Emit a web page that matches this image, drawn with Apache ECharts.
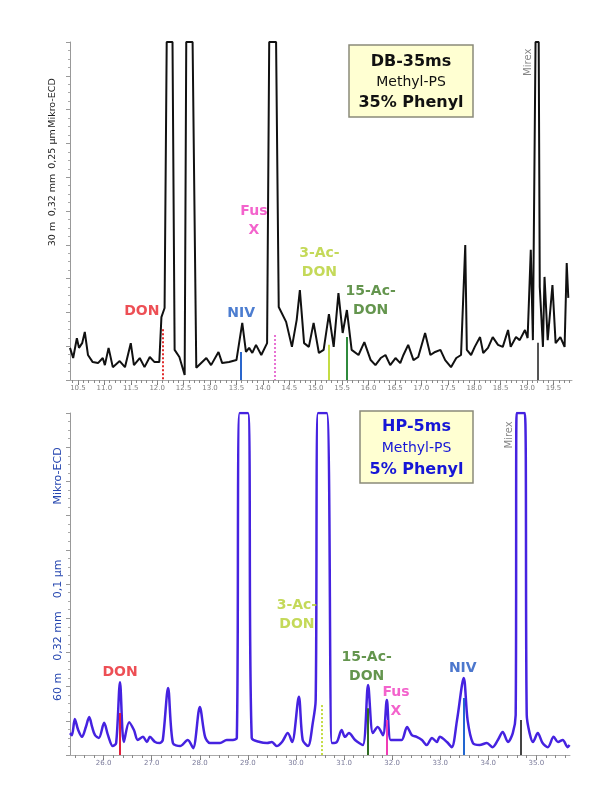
<!DOCTYPE html>
<html>
<head>
<meta charset="utf-8">
<title>DB-35ms / HP-5ms</title>
<script src="https://cdn.jsdelivr.net/npm/echarts@6/dist/echarts.min.js"></script>
<style>
  html, body { margin: 0; padding: 0; background: #fff; }
  #main { width: 600px; height: 800px; }
</style>
</head>
<body>
<div id="main"></div>
<script>
// retention time (min) and detector signal (% of the plotted range)

// DB-35ms column (top)
var topTicks = [10.5, 11.0, 11.5, 12.0, 12.5, 13.0, 13.5, 14.0, 14.5, 15.0, 15.5, 16.0, 16.5, 17.0, 17.5, 18.0, 18.5, 19.0, 19.5];
var topTime = [10.35, 10.41, 10.48, 10.52, 10.58, 10.63, 10.69, 10.78, 10.88, 10.97, 11.01, 11.08, 11.16, 11.29, 11.39, 11.50, 11.56, 11.67, 11.76, 11.86, 11.95, 12.04, 12.08, 12.14, 12.18, 12.29, 12.33, 12.42, 12.52, 12.55, 12.67, 12.74, 12.93, 13.02, 13.16, 13.23, 13.36, 13.50, 13.61, 13.68, 13.74, 13.80, 13.87, 13.97, 14.08, 14.12, 14.25, 14.30, 14.44, 14.55, 14.64, 14.70, 14.78, 14.87, 14.96, 15.06, 15.15, 15.25, 15.34, 15.43, 15.51, 15.59, 15.68, 15.81, 15.92, 16.04, 16.13, 16.23, 16.32, 16.41, 16.51, 16.60, 16.66, 16.75, 16.85, 16.94, 17.07, 17.17, 17.26, 17.36, 17.45, 17.56, 17.66, 17.75, 17.83, 17.86, 17.94, 18.01, 18.11, 18.17, 18.26, 18.35, 18.45, 18.54, 18.64, 18.69, 18.79, 18.86, 18.96, 19.01, 19.07, 19.11, 19.16, 19.22, 19.24, 19.30, 19.33, 19.39, 19.48, 19.54, 19.63, 19.71, 19.75, 19.78];
var topSignal = [9.5, 6.5, 12.4, 9.5, 10.9, 14.2, 7.4, 5.3, 5.0, 6.5, 4.4, 9.5, 3.8, 5.6, 3.8, 10.9, 4.4, 6.5, 3.8, 6.8, 5.3, 5.3, 18.6, 21.3, 100, 100, 8.9, 6.8, 1.5, 100, 100, 3.6, 6.5, 4.4, 8.3, 5.0, 5.3, 5.9, 16.9, 8.3, 9.5, 8.0, 10.4, 7.4, 10.9, 100, 100, 21.6, 17.2, 9.8, 17.8, 26.6, 10.9, 9.8, 16.9, 8.0, 8.9, 19.5, 9.8, 25.7, 13.9, 20.7, 8.9, 7.4, 11.2, 5.9, 4.4, 6.5, 7.4, 4.4, 6.5, 5.0, 7.4, 10.4, 5.9, 6.8, 13.9, 7.4, 8.3, 8.9, 5.9, 3.8, 6.5, 7.4, 39.9, 8.9, 7.4, 9.8, 12.7, 8.0, 9.5, 12.7, 10.4, 9.8, 14.8, 9.8, 12.7, 11.8, 14.8, 12.4, 38.5, 11.8, 100, 100, 27.5, 9.8, 30.5, 11.8, 28.1, 10.9, 12.7, 9.8, 34.6, 24.3];
var topPeakNames = ['DON', 'NIV', 'Fus X', '3-Ac-DON', '15-Ac-DON', 'Mirex'];
var topPeakTime = [12.10, 13.59, 14.23, 15.25, 15.59, 19.20];
var topPeakMark = [15.0, 8.3, 13.3, 10.4, 12.7, 11.0];

// HP-5ms column (bottom)
var bottomTicks = [26.0, 27.0, 28.0, 29.0, 30.0, 31.0, 32.0, 33.0, 34.0, 35.0];
var bottomTime = [25.30, 25.34, 25.40, 25.47, 25.55, 25.63, 25.70, 25.76, 25.82, 25.90, 26.01, 26.09, 26.19, 26.26, 26.34, 26.42, 26.53, 26.63, 26.71, 26.82, 26.90, 26.96, 27.07, 27.17, 27.23, 27.34, 27.44, 27.59, 27.75, 27.86, 28.00, 28.11, 28.21, 28.42, 28.56, 28.69, 28.77, 28.83, 29.00, 29.08, 29.25, 29.40, 29.50, 29.60, 29.71, 29.83, 29.92, 30.06, 30.14, 30.25, 30.35, 30.41, 30.46, 30.64, 30.75, 30.85, 30.95, 31.02, 31.10, 31.23, 31.39, 31.50, 31.60, 31.70, 31.81, 31.89, 31.97, 32.10, 32.20, 32.31, 32.41, 32.51, 32.62, 32.72, 32.83, 32.93, 32.99, 33.14, 33.24, 33.35, 33.49, 33.57, 33.68, 33.82, 33.97, 34.09, 34.20, 34.30, 34.41, 34.51, 34.57, 34.59, 34.76, 34.80, 34.86, 34.93, 35.03, 35.13, 35.24, 35.36, 35.45, 35.55, 35.65, 35.69];
var bottomSignal = [6.4, 5.8, 10.5, 7.3, 5.3, 8.2, 11.1, 8.2, 5.8, 5.0, 9.4, 5.8, 2.6, 3.5, 21.3, 3.8, 9.6, 7.3, 4.4, 5.3, 3.8, 5.3, 3.8, 3.5, 4.4, 19.6, 3.5, 2.6, 4.4, 2.0, 14.0, 5.3, 3.5, 3.5, 4.4, 4.4, 5.0, 100, 100, 5.0, 3.8, 3.5, 3.8, 2.6, 3.8, 6.4, 3.8, 17.0, 4.4, 2.6, 9.4, 16.1, 100, 100, 3.5, 3.8, 7.3, 5.3, 6.4, 4.4, 2.9, 20.5, 6.4, 8.2, 5.8, 16.1, 4.4, 4.4, 4.4, 8.2, 5.8, 5.3, 4.4, 2.9, 5.0, 3.8, 5.3, 3.8, 2.3, 10.2, 22.5, 10.2, 3.5, 2.9, 3.5, 2.3, 4.4, 6.7, 3.8, 6.4, 11.7, 100, 100, 11.7, 6.4, 3.8, 6.4, 3.5, 2.3, 5.3, 3.8, 4.4, 2.3, 2.9];
var bottomPeakNames = ['DON', '3-Ac-DON', '15-Ac-DON', 'Fus X', 'NIV', 'Mirex'];
var bottomPeakTime = [26.34, 30.54, 31.50, 31.89, 33.49, 34.68];
var bottomPeakMark = [12.3, 14.6, 13.7, 10.2, 16.7, 10.2];

// ---- styles / layout ----
var FONT = '"DejaVu Sans", Verdana, sans-serif';
var labelText = { 'DON': 'DON', 'NIV': 'NIV', 'Fus X': 'Fus\nX', '3-Ac-DON': '3-Ac-\nDON', '15-Ac-DON': '15-Ac-\nDON', 'Mirex': 'Mirex' };

var topStyle = {
  'DON':       { color: '#e8232b', line: '#e02a2a', type: 'dotted' },
  'NIV':       { color: '#1f5cc4', line: '#2a66cc', type: 'solid' },
  'Fus X':     { color: '#f03cbf', line: '#e872d4', type: 'dotted' },
  '3-Ac-DON':  { color: '#b5d030', line: '#c4dc44', type: 'solid' },
  '15-Ac-DON': { color: '#3d7a22', line: '#2f8a3c', type: 'solid' },
  'Mirex':     { color: '#666666', line: '#555555', type: 'solid' }
};
var bottomStyle = {
  'DON':       { color: '#e8232b', line: '#e0203c', type: 'solid' },
  'NIV':       { color: '#1f55c0', line: '#2266d0', type: 'solid' },
  'Fus X':     { color: '#f03cbf', line: '#f03cb4', type: 'solid' },
  '3-Ac-DON':  { color: '#b5d030', line: '#c4dc44', type: 'dotted' },
  '15-Ac-DON': { color: '#3d7a22', line: '#2e6b22', type: 'solid' },
  'Mirex':     { color: '#666666', line: '#444444', type: 'solid' }
};
// label anchors (min, signal)
var topLabelAt = {
  'DON': [11.71, 20.4], 'NIV': [13.59, 19.8], 'Fus X': [13.83, 47.2],
  '3-Ac-DON': [15.07, 34.6], '15-Ac-DON': [16.04, 23.4], 'Mirex': [19.03, 94.0]
};
var bottomLabelAt = {
  'DON': [26.34, 24.3], 'NIV': [33.47, 25.4], 'Fus X': [32.08, 15.5],
  '3-Ac-DON': [30.02, 40.9], '15-Ac-DON': [31.47, 25.7], 'Mirex': [34.45, 93.6]
};

function steps(a, b, d) {
  var out = [];
  for (var v = a; v <= b + 1e-9; v += d) out.push(+v.toFixed(2));
  return out;
}

function pairs(xs, ys) {
  return xs.map(function (x, i) { return [x, ys[i]]; });
}

function markLines(names, times, tops, style) {
  return names.map(function (n, i) {
    var s = style[n];
    return [
      { coord: [times[i], tops[i]], lineStyle: { color: s.line, type: s.type, width: 2 } },
      { coord: [times[i], 0] }
    ];
  });
}

function labelData(names, at, style) {
  return names.map(function (n) {
    var mirex = n === 'Mirex';
    return {
      value: at[n],
      label: {
        show: true,
        position: 'inside',
        formatter: labelText[n],
        color: style[n].color,
        fontFamily: FONT,
        fontSize: mirex ? 10 : 14,
        fontWeight: mirex ? 'normal' : 'bold',
        lineHeight: 19,
        align: 'center',
        rotate: mirex ? 90 : 0
      }
    };
  });
}

function xAxes(gi, min, max, ticks, minors, labelColor) {
  return [{
    type: 'value', gridIndex: gi, min: min, max: max, position: 'bottom',
    axisLine: { show: true, lineStyle: { color: '#aaaaaa', width: 1 } },
    axisTick: { show: true, customValues: ticks, length: 5, lineStyle: { color: '#777' } },
    axisLabel: {
      show: true, customValues: ticks, fontSize: 7, color: labelColor, margin: 5, fontFamily: FONT,
      formatter: function (v) { return v.toFixed(1); }
    },
    splitLine: { show: false }
  }, {
    type: 'value', gridIndex: gi, min: min, max: max, position: 'bottom',
    axisLine: { show: false },
    axisTick: { show: true, customValues: minors, length: 3, lineStyle: { color: '#888' } },
    axisLabel: { show: false },
    splitLine: { show: false }
  }];
}

function yAxis(gi) {
  return {
    type: 'value', gridIndex: gi, min: 0, max: 100, interval: 10,
    axisLine: { show: true, lineStyle: { color: '#999999' } },
    axisTick: { show: true, length: 4, lineStyle: { color: '#999' } },
    minorTick: { show: true, splitNumber: 4, length: 2, lineStyle: { color: '#aaa' } },
    axisLabel: { show: false },
    splitLine: { show: false }
  };
}

// rotated y axis captions, drawn as separate words like the original
function caption(x, parts, color, size) {
  return parts.map(function (p) {
    return {
      type: 'text', x: x, y: p[1], rotation: Math.PI / 2, silent: true,
      style: { text: p[0], fill: color, font: size + 'px ' + FONT, align: 'center', verticalAlign: 'middle', textAlign: 'center', textVerticalAlign: 'middle' }
    };
  });
}

function infoBox(x, y, w, h, lines, color) {
  var els = [{
    type: 'rect', shape: { x: x, y: y, width: w, height: h }, silent: true,
    style: { fill: '#ffffd2', stroke: '#8a8a7a', lineWidth: 1.5 }
  }];
  lines.forEach(function (l) {
    els.push({
      type: 'text', x: x + w / 2, y: l[1], silent: true,
      style: { text: l[0], fill: color, font: (l[2] ? 'bold ' : '') + l[3] + 'px ' + FONT, align: 'center', verticalAlign: 'middle', textAlign: 'center', textVerticalAlign: 'middle' }
    });
  });
  return els;
}

var chart = echarts.init(document.getElementById('main'), null, { renderer: 'canvas' });

var option = {
  backgroundColor: '#ffffff',
  animation: false,
  grid: [
    { left: 70, right: 28, top: 42, height: 338 },
    { left: 70, right: 30, top: 413, height: 342 }
  ],
  xAxis: [].concat(
    xAxes(0, 10.35, 19.85, topTicks, steps(10.4, 19.8, 0.1), '#808080'),
    xAxes(1, 25.3, 35.7, bottomTicks, steps(25.4, 35.6, 0.2), '#7a7a9a')
  ),
  yAxis: [yAxis(0), yAxis(1)],
  series: [
    {
      type: 'line', xAxisIndex: 0, yAxisIndex: 0, data: pairs(topTime, topSignal),
      showSymbol: false, clip: true, z: 2,
      lineStyle: { color: '#111111', width: 2 },
      markLine: { silent: true, symbol: ['none', 'none'], label: { show: false }, data: markLines(topPeakNames, topPeakTime, topPeakMark, topStyle) }
    },
    {
      type: 'scatter', xAxisIndex: 0, yAxisIndex: 0, symbolSize: 0, silent: true, z: 5,
      data: labelData(topPeakNames, topLabelAt, topStyle)
    },
    {
      type: 'line', xAxisIndex: 2, yAxisIndex: 1, data: pairs(bottomTime, bottomSignal),
      showSymbol: false, clip: true, smooth: 0.3, z: 2,
      lineStyle: { color: '#4522e0', width: 2.5 },
      markLine: { silent: true, symbol: ['none', 'none'], label: { show: false }, data: markLines(bottomPeakNames, bottomPeakTime, bottomPeakMark, bottomStyle) }
    },
    {
      type: 'scatter', xAxisIndex: 2, yAxisIndex: 1, symbolSize: 0, silent: true, z: 5,
      data: labelData(bottomPeakNames, bottomLabelAt, bottomStyle)
    }
  ],
  graphic: [].concat(
    caption(53, [['30 m', 234], ['0,32 mm', 195], ['0,25 µm', 149], ['Mikro-ECD', 103]], '#222222', 9.5),
    caption(58, [['60 m', 687], ['0,32 mm', 636], ['0,1 µm', 579], ['Mikro-ECD', 476]], '#2848b0', 11),
    infoBox(349, 45, 124, 72, [['DB-35ms', 62, true, 16], ['Methyl-PS', 82, false, 14], ['35% Phenyl', 103, true, 16]], '#111111'),
    infoBox(360, 411, 113, 72, [['HP-5ms', 427, true, 16], ['Methyl-PS', 448, false, 14], ['5% Phenyl', 470, true, 16]], '#1616d6')
  )
};

chart.setOption(option);
</script>
</body>
</html>
